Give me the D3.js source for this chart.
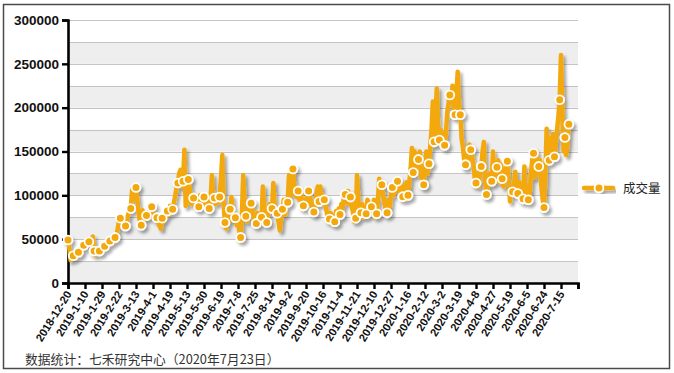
<!DOCTYPE html>
<html lang="zh">
<head>
<meta charset="UTF-8" />
<title>成交量</title>
<script src="https://d3js.org/d3.v7.min.js"></script>
<style>
  html, body { margin: 0; padding: 0; background: #fff; }
  svg { display: block; }
  .ylab { font-family: "Liberation Sans", Arial, sans-serif; font-weight: bold; font-size: 13.5px; fill: #111; }
  .xlab { font-family: "Liberation Sans", Arial, sans-serif; font-weight: bold; font-size: 11.2px; fill: #111; }
  .cjk { font-family: "Noto Sans CJK SC", sans-serif; }
</style>
</head>
<body>
<svg id="chart" width="674" height="373"></svg>
<script>
// x-axis labels, one per 13 trading days
const tickLabels = ["2018-12-20","2019-1-10","2019-1-29","2019-2-22","2019-3-13","2019-4-1","2019-4-19",
  "2019-5-13","2019-5-30","2019-6-19","2019-7-8","2019-7-25","2019-8-14","2019-9-2","2019-9-20",
  "2019-10-16","2019-11-4","2019-11-21","2019-12-10","2019-12-27","2020-1-16","2020-2-12","2020-3-2",
  "2020-3-19","2020-4-8","2020-4-27","2020-5-19","2020-6-5","2020-6-24","2020-7-15"];
const tickStep = 13;
const yTicks = [0, 50000, 100000, 150000, 200000, 250000, 300000];
const seriesName = "成交量";

// daily volume, in thousands
const volume = [
  49,40,26,35, 31,28,33,30, 35,38,33,40, 43,40,45,50, 47,50,45,53, 36.5,32,38,34,
  36.5,36,40,38, 42,44,40,47, 48,45,50,47, 52,55,62,70, 74,68,72,63, 65,70,78,82,
  85,106,95,100, 109,95,80,70, 66,83,72,75, 77,80,75,85, 87,80,75,72, 74.5,70,65,62,
  74,70,78,75, 82,78,88,80, 84,92,100,108, 114,125,129,110, 116,152,88,100, 118,110,90,100,
  97,92,85,90, 87,100,90,95, 98,92,88,95, 85,95,123,100, 97,90,100,92, 98,120,146,90,
  69,62,75,70, 84,98,80,78, 74.5,66,70,60, 52,80,123,95, 76,70,85,88, 91,85,75,70,
  68,80,72,70, 75,110,85,72, 69,80,90,82, 85,114,88,80, 79.5,70,60,75, 84,95,78,90,
  92,123,100,115, 130,110,100,98, 105,95,102,92, 88,95,90,100, 105,100,90,85, 81,88,100,110,
  93,110,90,100, 95,88,80,70, 73,80,68,75, 70,82,72,85, 78,90,85,98, 101,92,105,90,
  98,88,80,70, 74,123,95,75, 80,90,75,85, 79,95,88,80, 87,82,95,75, 79,95,119,105,
  112,100,90,85, 80,95,85,100, 109,100,110,105, 116,105,115,100, 98.5,110,95,115, 100,115,130,154,
  126,150,130,145, 141,150,120,130, 112,130,150,125, 136,155,175,207, 161,190,222,180, 163,175,160,170,
  157,170,195,205, 214.5,205,225,200, 192,215,241,205, 192,165,155,140, 135,150,140,158, 152,145,135,120,
  114,125,110,128, 133,150,161,115, 101,110,125,120, 116,150,120,125, 132,140,115,135, 119,110,130,125,
  139,120,93,110, 104,110,127,100, 102,115,98,110, 96,133,100,110, 95,100,125,140, 148,120,150,125,
  133,140,110,95, 86,120,176,150, 140,165,150,170, 144,160,175,190, 209,260,200,150, 166,146,160,181
];

const svg = d3.select("#chart");
const W = 674, H = 373;
const margin = { left: 68, right: 96, top: 20, bottom: 90 };
const plotRight = W - margin.right;   // 578
const plotBottom = H - margin.bottom; // 283

const nTicks = tickLabels.length; // 30 intervals
const x = d3.scaleLinear().domain([0, nTicks * tickStep]).range([margin.left, plotRight]);
const y = d3.scaleLinear().domain([0, 300000]).range([plotBottom, margin.top]);

// drop shadow
const defs = svg.append("defs");
const f = defs.append("filter").attr("id", "shadow").attr("x", "-5%").attr("y", "-5%").attr("width", "115%").attr("height", "120%");
f.append("feDropShadow").attr("dx", 2.5).attr("dy", 3).attr("stdDeviation", 1.4)
  .attr("flood-color", "#000").attr("flood-opacity", 0.35);

// outer frame
svg.append("rect").attr("x", 3.5).attr("y", 4.5).attr("width", 666).attr("height", 364)
  .attr("fill", "#fff").attr("stroke", "#4a4a4a").attr("stroke-width", 1.5);

// alternating bands + gridlines every 25000
const bandVals = d3.range(0, 300000, 25000);
svg.append("g").selectAll("rect").data(bandVals).join("rect")
  .attr("x", margin.left).attr("width", plotRight - margin.left)
  .attr("y", d => y(d + 25000)).attr("height", d => y(d) - y(d + 25000))
  .attr("fill", d => (d / 25000) % 2 === 0 ? "#eeeeee" : "#ffffff");
svg.append("g").selectAll("line").data(bandVals.concat([300000]).filter(d => d > 0)).join("line")
  .attr("x1", margin.left).attr("x2", plotRight)
  .attr("y1", d => Math.round(y(d)) + 0.5).attr("y2", d => Math.round(y(d)) + 0.5)
  .attr("stroke", "#c4c4c4").attr("stroke-width", 1.2);

// y axis
const yAxis = svg.append("g").attr("transform", `translate(${margin.left},0)`)
  .call(d3.axisLeft(y).tickValues(yTicks).tickSize(6).tickPadding(3).tickFormat(d3.format("d")));
yAxis.select(".domain").attr("stroke", "#000").attr("stroke-width", 2.6);
yAxis.selectAll(".tick line").attr("stroke", "#000").attr("stroke-width", 2.4);
yAxis.selectAll(".tick text").attr("class", "ylab").attr("font-family", null).attr("font-size", null);

// x axis
const xTickIdx = d3.range(0, nTicks * tickStep + 1, tickStep);
const xAxis = svg.append("g").attr("transform", `translate(0,${plotBottom})`)
  .call(d3.axisBottom(x).tickValues(xTickIdx).tickSize(6).tickFormat(() => ""));
xAxis.select(".domain").attr("stroke", "#000").attr("stroke-width", 2.6);
xAxis.selectAll(".tick line").attr("stroke", "#000").attr("stroke-width", 2.4);

svg.append("g").selectAll("text").data(tickLabels).join("text")
  .attr("class", "xlab")
  .attr("text-anchor", "end")
  .attr("transform", (d, i) => `translate(${x(i * tickStep) + 4},${plotBottom + 11}) rotate(-58)`)
  .text(d => d);

// series
const orange = "#F3A80B";
const pts = volume.map((v, i) => ({ i, v: v * 1000 }));
const g = svg.append("g").attr("filter", "url(#shadow)");
g.append("path").datum(pts)
  .attr("fill", "none").attr("stroke", orange).attr("stroke-width", 4.5)
  .attr("stroke-linejoin", "round").attr("stroke-linecap", "round")
  .attr("d", d3.line().x(d => x(d.i)).y(d => y(d.v)));
g.selectAll("circle").data(pts.filter(d => d.i % 4 === 0 || d.i === pts.length - 1)).join("circle")
  .attr("cx", d => x(d.i)).attr("cy", d => y(d.v)).attr("r", 4.4)
  .attr("fill", orange).attr("stroke", "#fff").attr("stroke-width", 1.8);

// legend
const lg = svg.append("g").attr("transform", "translate(583,188)");
const lg2 = lg.append("g").attr("filter", "url(#shadow)");
lg2.append("line").attr("x1", 1).attr("x2", 30).attr("y1", 0).attr("y2", 0)
  .attr("stroke", orange).attr("stroke-width", 4.5).attr("stroke-linecap", "round");
lg2.append("circle").attr("cx", 16).attr("cy", 0).attr("r", 4.4)
  .attr("fill", orange).attr("stroke", "#fff").attr("stroke-width", 1.8);
lg.append("text").attr("class", "cjk").attr("x", 40).attr("y", 4.5)
  .attr("font-size", 12.5).attr("fill", "#222").text(seriesName);

// source note
svg.append("text").attr("class", "cjk").attr("x", 25).attr("y", 364)
  .attr("font-size", 12.8).attr("fill", "#333")
  .text("数据统计：七禾研究中心（2020年7月23日）");
</script>
</body>
</html>
